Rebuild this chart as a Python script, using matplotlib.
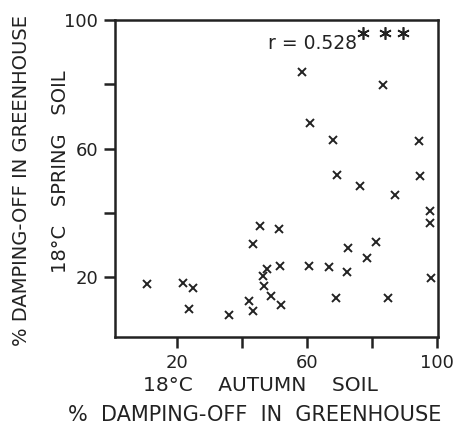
import matplotlib
matplotlib.use("Agg")
import matplotlib.pyplot as plt

# autumn soil (x) vs spring soil (y), % damping-off
x_vals = [58.5, 83.4, 61.0, 68.0, 94.6, 69.4, 94.9, 76.4, 87.2, 97.9,
          97.9, 45.6, 51.5, 43.6, 72.8, 81.3, 78.5, 47.9, 51.8, 60.8,
          66.7, 72.5, 46.6, 98.2, 10.8, 21.8, 25.1, 46.9, 48.9, 69.0,
          85.1, 42.3, 23.9, 43.6, 52.1, 36.2]
y_vals = [83.9, 79.8, 68.0, 62.6, 62.4, 51.7, 51.4, 48.3, 45.5, 40.5,
          36.9, 35.9, 35.2, 30.5, 29.1, 31.0, 26.1, 22.7, 23.4, 23.4,
          23.2, 21.6, 20.3, 19.9, 18.0, 18.2, 16.8, 17.2, 14.2, 13.7,
          13.6, 12.8, 10.3, 9.5, 11.3, 8.2]
# points at the top (star symbols)
star_x = [77.4, 84.1, 89.7]
star_y = [95.9, 95.9, 95.9]

ticks = [20, 40, 60, 80, 100]
tick_labels = ["20", "", "60", "", "100"]

plt.rcParams["font.family"] = ["DejaVu Sans"]
INK = "#222222"

fig = plt.figure(figsize=(4.58, 4.26), dpi=100)
ax = fig.add_axes([0.251, 0.209, 0.705, 0.744])

ax.plot(x_vals, y_vals, linestyle="none", marker="x", ms=5.5, mew=1.4, color=INK)
ax.plot(star_x, star_y, linestyle="none", marker=(6, 2, 0), ms=9, mew=1.2, color=INK)

ax.set_xlim(1, 100.3)
ax.set_ylim(1.5, 100)
ax.set_xticks(ticks)
ax.set_xticklabels(tick_labels)
ax.set_yticks(ticks)
ax.set_yticklabels(tick_labels)
ax.tick_params(direction="out", length=8, width=1.8, labelsize=13, pad=4, colors=INK)
for s in ax.spines.values():
    s.set_linewidth(1.8)
    s.set_color(INK)

ax.text(0.475, 0.925, "r = 0.528", transform=ax.transAxes, va="center", fontsize=13.5, color=INK)

fig.text(0.568, 0.096, "18°C    AUTUMN    SOIL", ha="center", va="center", fontsize=14.5, color=INK)
fig.text(0.557, 0.025, "%  DAMPING-OFF  IN  GREENHOUSE", ha="center", va="center", fontsize=15, color=INK)
fig.text(0.133, 0.596, "18°C   SPRING   SOIL", rotation=90, ha="center", va="center", fontsize=14, color=INK)
fig.text(0.048, 0.577, "% DAMPING-OFF IN GREENHOUSE", rotation=90, ha="center", va="center", fontsize=14, color=INK)

fig.savefig("out.png", dpi=100, facecolor="white")
